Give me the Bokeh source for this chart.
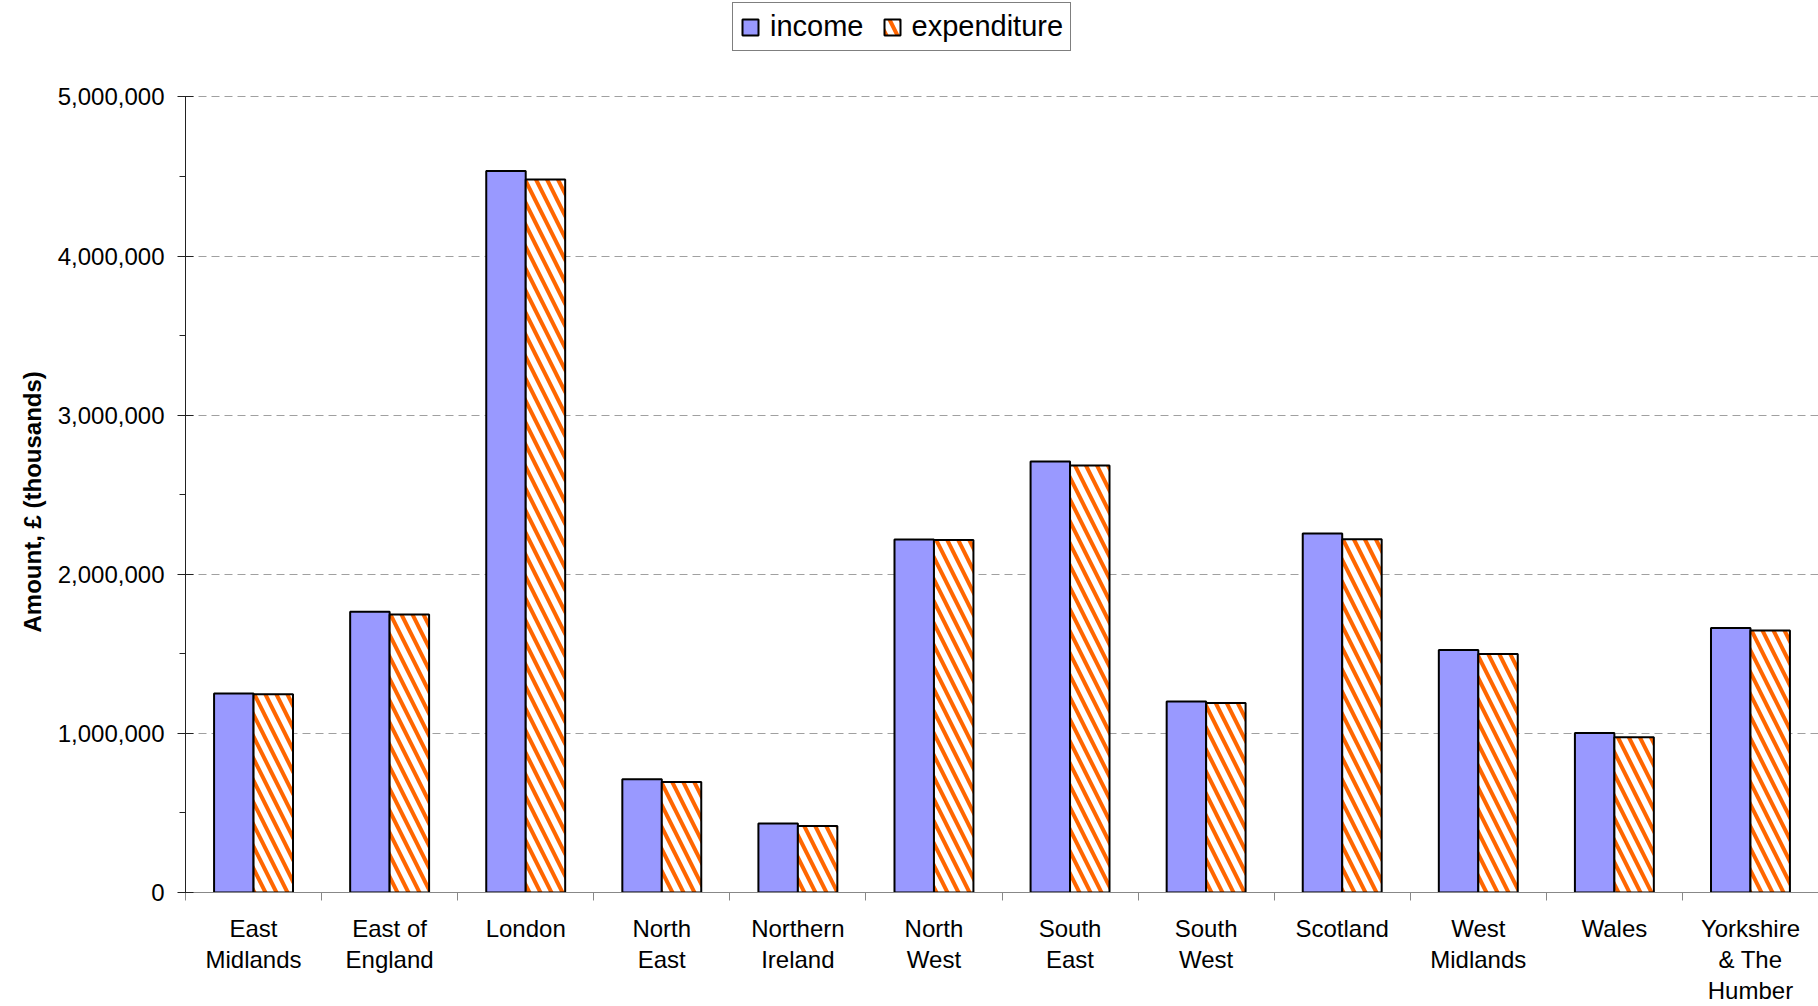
import numpy as np
from bokeh.plotting import figure
from bokeh.models import (ColumnDataSource, Range1d, FixedTicker, NumeralTickFormatter,
                          Legend, LegendItem, Title)
from bokeh.transform import dodge
from bokeh.embed import file_html
from bokeh.resources import INLINE

# ---- data ----
categories = ["East\nMidlands", "East of\nEngland", "London", "North\nEast",
              "Northern\nIreland", "North\nWest", "South\nEast", "South\nWest",
              "Scotland", "West\nMidlands", "Wales", "Yorkshire\n& The\nHumber"]
income = [1250000, 1765000, 4535000, 711000, 434000, 2218000,
          2709000, 1201000, 2256000, 1524000, 1002000, 1663000]
expenditure = [1246000, 1747000, 4482000, 694000, 418000, 2215000,
               2684000, 1191000, 2220000, 1499000, 975000, 1646000]
y_ticks = [0, 1000000, 2000000, 3000000, 4000000, 5000000]
y_minor = [500000, 1500000, 2500000, 3500000, 4500000]
y_title = "Amount, £ (thousands)"

FONT = "Liberation Sans"

n = len(categories)
pos = [i + 0.5 for i in range(n)]
bounds = list(range(n + 1))

src = ColumnDataSource(dict(x=pos, income=income, expenditure=expenditure))

# frame extends up to the top of the page (room for the legend); axis drawn to 5,000,000
p = figure(width=1818, height=1006, output_backend="svg", toolbar_location=None,
           x_range=Range1d(0, n), y_range=Range1d(0, 5600000),
           min_border_left=185, min_border_right=0, min_border_top=1,
           min_border_bottom=114)
p.outline_line_color = None
p.background_fill_color = "white"

r_inc = p.vbar(x=dodge("x", -0.145, range=p.x_range), top="income", width=0.29,
               source=src, fill_color="#9999FF", line_color="black", line_width=2)
r_exp = p.vbar(x=dodge("x", 0.145, range=p.x_range), top="expenditure", width=0.29,
               source=src, fill_color="white", line_color="black", line_width=2,
               hatch_pattern="left_diagonal_line", hatch_color="#FF6600",
               hatch_scale=22, hatch_weight=4)

# y axis
ya = p.yaxis[0]
ya.bounds = (y_ticks[0], y_ticks[-1])
ya.ticker = FixedTicker(ticks=y_ticks, minor_ticks=y_minor)
ya.formatter = NumeralTickFormatter(format="0,0")
ya.axis_line_color = "#222222"
ya.major_tick_line_color = "#222222"
ya.minor_tick_line_color = "#222222"
ya.major_tick_in = 8
ya.major_tick_out = 8
ya.minor_tick_in = 0
ya.minor_tick_out = 6
ya.major_label_standoff = 13
ya.major_label_text_font = FONT
ya.major_label_text_font_size = "24px"
ya.major_label_text_color = "black"

# y axis title, placed along the drawn part of the axis
yt = Title(text=y_title, align="left", offset=260,
           text_font=FONT, text_font_size="24px", text_font_style="bold",
           text_color="black")
if "standoff" in Title.properties():
    yt.standoff = 17
p.add_layout(yt, "left")

# x axis
xa = p.xaxis[0]
xa.ticker = FixedTicker(ticks=pos, minor_ticks=bounds)
xa.major_label_overrides = {pos[i]: categories[i] for i in range(n)}
xa.axis_line_color = "#888888"
xa.major_tick_line_color = None
xa.major_tick_in = 0
xa.major_tick_out = 0
xa.minor_tick_line_color = "#888888"
xa.minor_tick_in = 0
xa.minor_tick_out = 8
xa.major_label_standoff = 14
xa.major_label_text_font = FONT
xa.major_label_text_font_size = "24px"
xa.major_label_text_color = "black"
xa.major_label_text_line_height = 1.15

# grid
p.xgrid.visible = False
p.ygrid.ticker = FixedTicker(ticks=y_ticks[1:])
p.ygrid.grid_line_color = "#A0A0A0"
p.ygrid.grid_line_dash = "8 5"
p.ygrid.grid_line_width = 1

legend = Legend(items=[LegendItem(label="income", renderers=[r_inc]),
                       LegendItem(label="expenditure", renderers=[r_exp])],
                location=(547, 841), orientation="horizontal")
legend.border_line_color = "black"
legend.border_line_width = 1
legend.background_fill_color = "white"
legend.background_fill_alpha = 1
legend.label_text_font = FONT
legend.label_text_font_size = "29px"
legend.label_text_color = "black"
legend.glyph_width = 20
legend.glyph_height = 20
legend.label_standoff = 10
legend.spacing = 18
legend.padding = 7
legend.margin = 0
p.add_layout(legend, "center")

open("out.html", "w").write(file_html(p, INLINE))
